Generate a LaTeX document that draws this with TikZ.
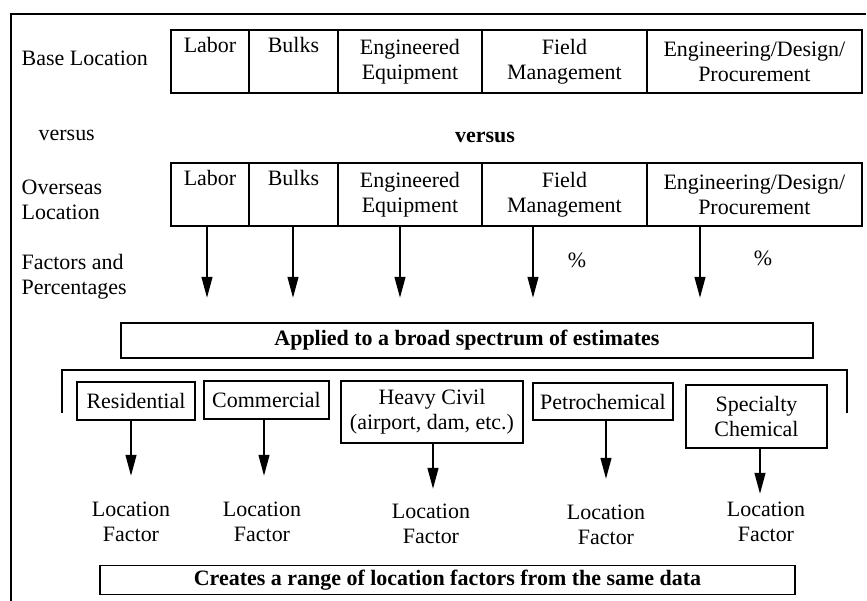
\documentclass[tikz,border=0pt]{standalone}
\usepackage{fontspec}
\setmainfont[Scale=1.25]{Liberation Serif}
\linespread{1.2}
\usepackage{tikz}
\usetikzlibrary{shapes, arrows, arrows.meta, positioning}
\tikzstyle{cell} = [rectangle, draw=black, thick, minimum height=1.26cm, inner sep=0pt, outer sep=0pt, align=center]
\tikzstyle{sector} = [rectangle, draw=black, thick, inner sep=0pt, align=center]
\tikzstyle{banner} = [rectangle, draw=black, thick, inner sep=0pt, font=\bfseries]
\tikzstyle{arrow} = [line width=1.4pt, -{Triangle[length=12pt,width=6pt]}]
\newcommand{\blankLine}{\\\strut}

\begin{document}
\begin{tikzpicture}[x=0.02cm, y=-0.02cm]
\useasboundingbox (0,0) rectangle (867,601);
\draw[thick] (11,601) -- (11,14) -- (866,14);

\foreach \r/\y in {1/30, 2/163} {
\node[cell, minimum width=1.56cm, anchor=north west] (lab\r) at (171,\y) {Labor\blankLine};
\node[cell, minimum width=1.78cm, right=0pt of lab\r] (blk\r) {Bulks\blankLine};
\node[cell, minimum width=2.88cm, right=0pt of blk\r] (eqp\r) {Engineered\\Equipment};
\node[cell, minimum width=3.30cm, right=0pt of eqp\r] (fld\r) {Field\\Management};
\node[cell, minimum width=4.30cm, right=0pt of fld\r] (edp\r) {Engineering/Design/\\Procurement};
}

\node[anchor=west] (base) at (14,58) {Base Location};
\node[anchor=west] (vsl) at (31,135) {versus};
\node[font=\bfseries] (vsr) at (485,137) {versus};
\node[anchor=west, align=left] (ovs) at (14,200) {Overseas\\Location};
\node[anchor=west, align=left] (fac) at (14,277) {Factors and\\Percentages};

\coordinate (t1) at (207,298);
\coordinate (t2) at (293,298);
\coordinate (t3) at (400,298);
\coordinate (t4) at (533,298);
\coordinate (t5) at (700,298);
\draw[arrow] (lab2.south -| t1) -- (t1);
\draw[arrow] (blk2.south -| t2) -- (t2);
\draw[arrow] (eqp2.south -| t3) -- (t3);
\draw[arrow] (fld2.south -| t4) -- (t4);
\draw[arrow] (edp2.south -| t5) -- (t5);
\node (pc1) at (577,260) {\%};
\node (pc2) at (763,258) {\%};

\node[banner, minimum width=13.84cm, minimum height=0.70cm] (apl) at (467,340.5) {Applied to a broad spectrum of estimates};
\draw[thick] (62,413) -- (62,370) -- (847,370) -- (847,413);

\node[sector, minimum width=2.36cm, minimum height=0.76cm] (res) at (136,401) {Residential};
\node[sector, minimum width=2.50cm, minimum height=0.76cm] (com) at (266.5,400) {Commercial};
\node[sector, minimum width=3.64cm, minimum height=1.24cm] (hvy) at (432,412) {Heavy Civil\\(airport, dam, etc.)};
\node[sector, minimum width=2.80cm, minimum height=0.74cm] (pet) at (603,401.5) {Petrochemical};
\node[sector, minimum width=2.82cm, minimum height=1.26cm] (spc) at (756.5,416.5) {Specialty\\Chemical};

\node[align=center] (lf1) at (131,522) {Location\\Factor};
\node[align=center] (lf2) at (262,522) {Location\\Factor};
\node[align=center] (lf3) at (431,524) {Location\\Factor};
\node[align=center] (lf4) at (606,525) {Location\\Factor};
\node[align=center] (lf5) at (766,522) {Location\\Factor};

\coordinate (b1) at (131,476);
\coordinate (b2) at (264,476);
\coordinate (b3) at (433,489);
\coordinate (b4) at (606,479);
\coordinate (b5) at (760,494);
\draw[arrow] (res.south -| b1) -- (b1);
\draw[arrow] (com.south -| b2) -- (b2);
\draw[arrow] (hvy.south -| b3) -- (b3);
\draw[arrow] (pet.south -| b4) -- (b4);
\draw[arrow] (spc.south -| b5) -- (b5);

\node[banner, minimum width=13.9cm, minimum height=0.58cm] (crt) at (447.5,580) {Creates a range of location factors from the same data};
\end{tikzpicture}
\end{document}
